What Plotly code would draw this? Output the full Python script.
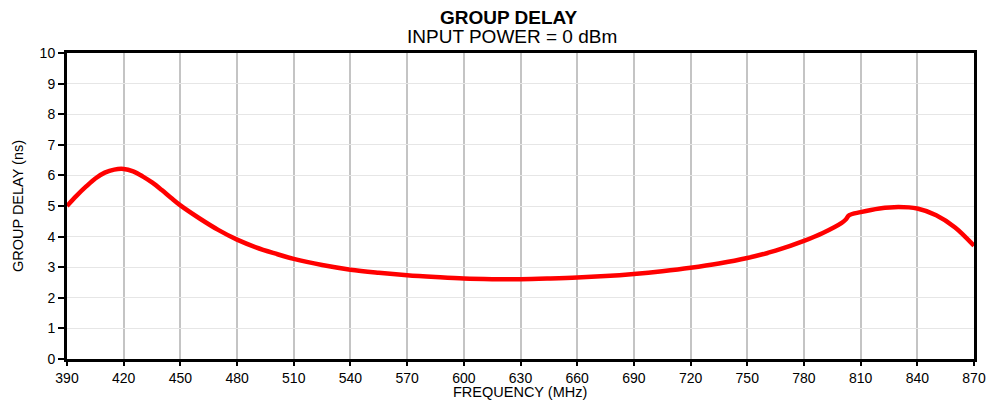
import plotly.graph_objs as go

# frequency (MHz) and group delay (ns)
freq = [390, 395, 400, 405, 410, 415, 420, 425, 430, 435, 440, 445, 450, 460, 470,
        480, 490, 500, 510, 525, 540, 555, 570, 585, 600, 615, 630, 645, 660, 675,
        690, 705, 720, 735, 750, 765, 780, 790, 800, 802, 804, 810, 820, 830, 840,
        850, 860, 870]
delay = [5.0, 5.33, 5.63, 5.9, 6.09, 6.19, 6.21, 6.13, 5.97, 5.77, 5.53, 5.27, 5.02, 4.6, 4.22,
         3.9, 3.65, 3.45, 3.27, 3.07, 2.92, 2.82, 2.74, 2.68, 2.63, 2.61, 2.61, 2.63, 2.66, 2.71,
         2.78, 2.87, 2.98, 3.12, 3.3, 3.54, 3.86, 4.12, 4.45, 4.55, 4.7, 4.8, 4.92, 4.97, 4.92,
         4.7, 4.3, 3.7]

x_ticks = list(range(390, 871, 30))
y_ticks = list(range(0, 11))


def main():
    fig = go.Figure(go.Scatter(
        x=freq, y=delay, mode='lines',
        line=dict(color='#ff0000', width=4.5, shape='spline', smoothing=1.0),
        hoverinfo='x+y',
    ))
    # page body adds 8px of margin, so the figure is 8px smaller and shifted
    fig.update_layout(
        width=986, height=398,
        paper_bgcolor='white', plot_bgcolor='white',
        font=dict(family='Liberation Sans, Arial, sans-serif', color='black', size=14),
        margin=dict(l=59, r=20, t=45, b=47, autoexpand=False),
        showlegend=False,
        annotations=[
            dict(text='<b>GROUP DELAY</b>', x=0.5, y=1, xref='paper', yref='paper',
                 xanchor='center', yanchor='middle', xshift=-12, yshift=36, showarrow=False,
                 font=dict(size=19)),
            dict(text='INPUT POWER = 0 dBm', x=0.5, y=1, xref='paper', yref='paper',
                 xanchor='center', yanchor='middle', xshift=-9, yshift=17, showarrow=False,
                 font=dict(size=19)),
            dict(text='FREQUENCY (MHz)', x=0.5, y=0, xref='paper', yref='paper',
                 xanchor='center', yanchor='middle', xshift=-1, yshift=-33, showarrow=False,
                 font=dict(size=14.5)),
        ],
    )
    fig.update_xaxes(
        range=[390, 870], tickvals=x_ticks, ticks='outside', ticklen=4, tickwidth=2,
        tickcolor='black', showline=True, linecolor='black', linewidth=3, mirror=True,
        showgrid=True, gridcolor='#c4c4c4', gridwidth=2, zeroline=False, automargin=False,
        tickfont=dict(size=14),
    )
    fig.update_yaxes(
        range=[0, 10], tickvals=y_ticks, ticks='outside', ticklen=6, tickwidth=2,
        tickcolor='black', showline=True, linecolor='black', linewidth=3, mirror=True,
        showgrid=True, gridcolor='#e6e6e6', gridwidth=1, zeroline=False, automargin=False,
        tickfont=dict(size=14),
        title=dict(text='GROUP DELAY (ns)', font=dict(size=14.5), standoff=13),
    )
    fig.write_html('out.html')


if __name__ == '__main__':
    main()
